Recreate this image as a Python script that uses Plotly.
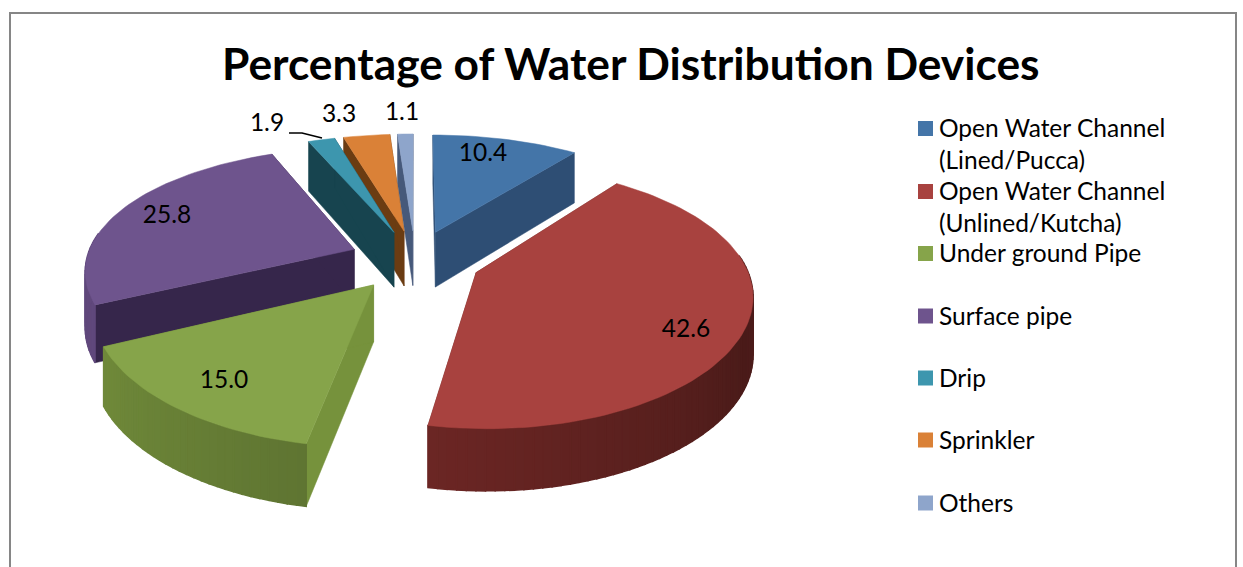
import math
import plotly.graph_objects as go

# ---------- data ----------
categories = ["Open Water Channel (Lined/Pucca)", "Open Water Channel (Unlined/Kutcha)",
              "Under ground Pipe", "Surface pipe", "Drip", "Sprinkler", "Others"]
values = [10.4, 42.6, 15.0, 25.8, 1.9, 3.3, 1.1]
legend_lines = [["Open Water Channel", "(Lined/Pucca)"], ["Open Water Channel", "(Unlined/Kutcha)"],
                ["Under ground Pipe"], ["Surface pipe"], ["Drip"], ["Sprinkler"], ["Others"]]
title_text = "Percentage of Water Distribution Devices"

# ---------- style ----------
top_colors = ["#4475A8", "#A8423F", "#86A44A", "#6E548D", "#3D96AE", "#DA8137", "#8EA5CB"]
wall_start = [(46, 78, 116), (92, 34, 32), (95, 117, 50), (96, 72, 124), (27, 76, 88), (110, 63, 20), (70, 89, 122)]
wall_mid = [(46, 78, 116), (74, 27, 25), (104, 128, 54), (96, 72, 124), (27, 76, 88), (110, 63, 20), (70, 89, 122)]
wall_end = [(46, 78, 116), (108, 38, 36), (112, 138, 58), (104, 80, 138), (27, 76, 88), (110, 63, 20), (70, 89, 122)]
face_colors = ["#2E4E74", "#6A2624", "#76923C", "#36264B", "#17444F", "#6B3C12", "#46597A"]
legend_y = [128.5, 191.5, 253.5, 316, 378, 440, 503]
label_pos = [(483, 155), (686, 331), (224, 382), (167, 217), (267, 125), (339, 116), (402, 114)]
CX, CY, A, B, PX, PY, EXPLODE, H = 415, 260, 268, 123.5, 0.15, 0.177, 0.246, 56
FONT = "Lato"


def project(wx, wy, low=False):
    y = CY - B * wy / (1 + PY * wy)
    if low:
        y += H * (1 - 0.1 * wy)
    return CX + A * wx / (1 + PX * wy), y


def poly(points, color, name=None, width=0.5):
    xs = [p[0] for p in points] + [points[0][0]]
    ys = [p[1] for p in points] + [points[0][1]]
    return go.Scatter(x=xs, y=ys, mode="lines", fill="toself", fillcolor=color,
                      line=dict(color=color, width=width), hoverinfo="skip" if name is None else "text",
                      text=name, showlegend=False)


def shade(i, u):
    c0, c1 = (wall_start[i], wall_mid[i]) if u < 0.5 else (wall_mid[i], wall_end[i])
    f = u * 2 if u < 0.5 else (u - 0.5) * 2
    return "rgb(%d,%d,%d)" % tuple(round(c0[k] + (c1[k] - c0[k]) * f) for k in range(3))


fig = go.Figure()
total = sum(values)
start = 0.0
order = [6, 5, 4, 3, 2, 0, 1]
slices = []
for v in values:
    end = start + v / total * 2 * math.pi
    slices.append((start, end))
    start = end

for i in order:
    a0, a1 = slices[i]
    mid = (a0 + a1) / 2
    ox, oy = EXPLODE * math.sin(mid), EXPLODE * math.cos(mid)
    n = max(3, int((a1 - a0) / 0.03))
    angs = [a0 + (a1 - a0) * k / n for k in range(n + 1)]
    rim = [(ox + math.sin(t), oy + math.cos(t)) for t in angs]
    # radial side faces
    for q in (rim[0], rim[-1]):
        fig.add_trace(poly([project(ox, oy), project(*q), project(*q, True), project(ox, oy, True)],
                           face_colors[i]))
    # outer wall: only the part turned towards the viewer; thick outlines hide the seams
    for k in range(n):
        if math.cos((angs[k] + angs[k + 1]) / 2) < 0.15:
            q0, q1 = rim[k], rim[k + 1]
            fig.add_trace(poly([project(*q0), project(*q1), project(*q1, True), project(*q0, True)],
                               shade(i, k / n), width=1.5))
    label = f"{categories[i]}: {values[i]}"
    fig.add_trace(poly([project(ox, oy)] + [project(*q) for q in rim], top_colors[i], label))

# leader line for the Drip label
fig.add_trace(go.Scatter(x=[289, 302, 322], y=[133, 133, 138], mode="lines",
                         line=dict(color="black", width=1.6), hoverinfo="skip", showlegend=False))

# data labels
fig.add_trace(go.Scatter(x=[p[0] for p in label_pos], y=[p[1] for p in label_pos],
                         mode="text", text=[f"{v:.1f}" for v in values],
                         textfont=dict(family=FONT, size=24.5, color="black"),
                         hoverinfo="skip", showlegend=False))

# legend swatches
fig.add_trace(go.Scatter(x=[925.5] * 7, y=legend_y, mode="markers",
                         marker=dict(symbol="square", size=15, color=top_colors),
                         hoverinfo="skip", showlegend=False))

annotations = [dict(x=631, y=62, text=f"<b>{title_text}</b>", showarrow=False, xref="x", yref="y",
                    font=dict(family=FONT, size=44.3, color="black"))]
for yy, lines in zip(legend_y, legend_lines):
    for j, line in enumerate(lines):
        annotations.append(dict(x=937, y=yy + j * 32 - 1, text=line, showarrow=False, xanchor="left",
                                xref="x", yref="y", font=dict(family=FONT, size=24.5, color="black")))

fig.update_layout(
    width=1243, height=567, margin=dict(l=0, r=0, t=0, b=0),
    paper_bgcolor="white", plot_bgcolor="white", showlegend=False,
    xaxis=dict(range=[0, 1243], visible=False, fixedrange=True),
    yaxis=dict(range=[567, 0], visible=False, fixedrange=True),
    annotations=annotations,
    shapes=[dict(type="rect", xref="x", yref="y", x0=10, y0=13, x1=1236, y1=600,
                 line=dict(color="#868686", width=2), layer="below")],
)
fig.write_html("out.html", config={"displayModeBar": False},
               post_script="document.body.style.margin='0';")
